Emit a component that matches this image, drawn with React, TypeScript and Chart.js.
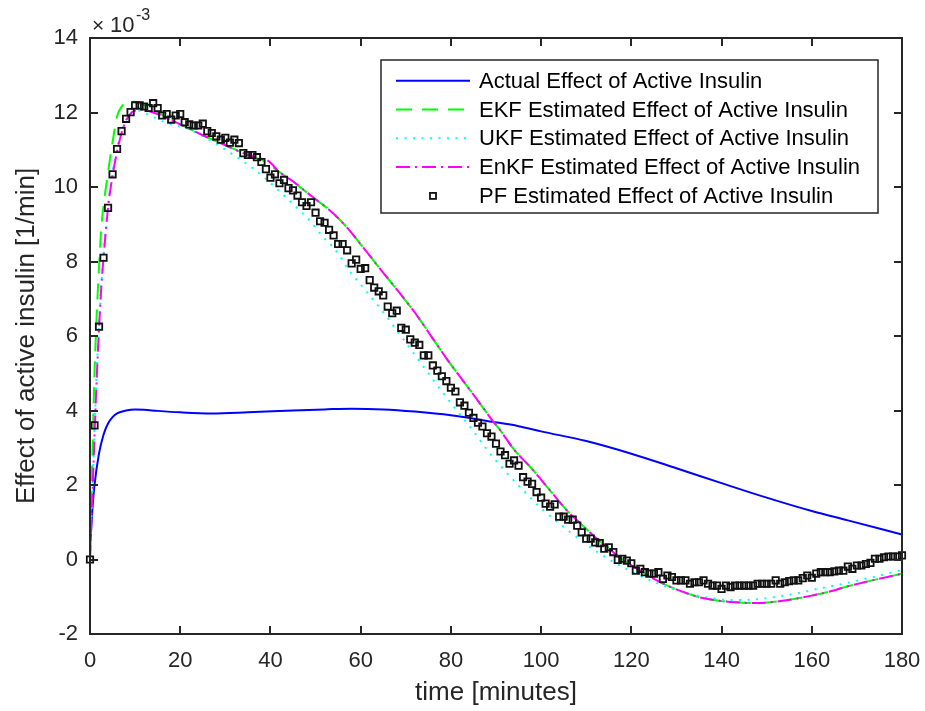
import React, { useEffect, useRef } from "react";
import { Chart, registerables } from "chart.js";

Chart.register(...registerables);

const FONT = '"Liberation Sans", Arial, Helvetica, sans-serif';
const AXIS_COLOR = "#262626";

// ---- axis ticks ----
const xTickValues = [0, 20, 40, 60, 80, 100, 120, 140, 160, 180];
const yTickValues = [-2, 0, 2, 4, 6, 8, 10, 12, 14];

// ---- series (values in units of 1e-3 1/min) ----
const actualTime = [0, 0.5, 1, 2, 3, 4, 5, 6, 8, 10, 12, 15, 20, 27, 35, 45, 52, 58, 65, 72, 80, 89, 95, 100, 110, 120, 130, 140, 150, 160, 168, 180];
const actualValue = [0.3, 1.3, 2.0, 2.85, 3.35, 3.65, 3.82, 3.92, 4.0, 4.03, 4.02, 3.99, 3.95, 3.92, 3.95, 4.0, 4.03, 4.05, 4.03, 3.97, 3.87, 3.7, 3.58, 3.44, 3.18, 2.84, 2.45, 2.05, 1.66, 1.3, 1.05, 0.67];

const ekfTime = [0, 0.5, 1, 1.5, 2, 2.5, 3, 4, 5, 6, 7, 8, 9, 10, 12, 14, 17.6, 20, 25, 30, 35, 39, 42, 45, 48, 50, 53, 57, 60, 64, 68, 72, 76, 79, 83, 86.5, 89.4, 91, 94, 98, 102, 106, 108, 112, 115, 118, 122, 125, 128, 131, 135, 139, 143, 148, 154, 160, 164, 168, 172, 176, 180];
const ekfValue = [0, 2.6, 5.0, 6.6, 7.85, 8.9, 9.5, 10.4, 11.2, 11.9, 12.15, 12.27, 12.3, 12.28, 12.2, 12.08, 11.82, 11.68, 11.39, 11.12, 10.86, 10.67, 10.4, 10.15, 9.86, 9.67, 9.39, 8.91, 8.46, 7.85, 7.25, 6.63, 5.93, 5.4, 4.75, 4.18, 3.7, 3.46, 2.95, 2.43, 1.85, 1.28, 1.05, 0.6, 0.3, 0.0, -0.3, -0.52, -0.7, -0.85, -1.01, -1.1, -1.15, -1.17, -1.1, -0.97, -0.86, -0.72, -0.6, -0.49, -0.38];

const ukfTime = [0, 0.5, 1, 1.5, 2, 2.5, 3, 4, 5, 6, 7, 8, 9, 10, 11, 12, 14, 17, 21.7, 27.6, 31.7, 35.8, 38.4, 41.7, 45.4, 48.7, 51.7, 53.9, 55.8, 57.2, 60, 64.6, 68, 71.3, 75, 78.7, 82, 85.7, 87.6, 91.6, 96.1, 100.5, 103.5, 106.4, 110.1, 113, 116.8, 120, 124.2, 128, 131.6, 135, 139, 142.5, 146.4, 150, 153.8, 157.5, 161.2, 165, 168.6, 174, 180];
const ukfValue = [0, 1.7, 3.5, 5.1, 6.35, 7.4, 8.2, 9.5, 10.4, 11.05, 11.5, 11.8, 11.98, 12.05, 12.05, 12.0, 11.88, 11.72, 11.56, 11.18, 10.87, 10.53, 10.28, 9.92, 9.5, 9.1, 8.65, 8.38, 8.07, 7.8, 7.38, 6.7, 6.15, 5.61, 5.0, 4.4, 3.9, 3.33, 3.01, 2.43, 1.85, 1.32, 1.02, 0.74, 0.4, 0.16, -0.12, -0.32, -0.56, -0.74, -0.88, -0.98, -1.06, -1.09, -1.08, -1.04, -0.97, -0.89, -0.79, -0.7, -0.61, -0.46, -0.28];

const enkfTime = [0, 0.5, 1, 1.5, 2, 2.5, 3, 4, 5, 6, 7, 8, 9, 10, 11, 12, 14, 17.6, 20, 25, 30, 35, 38, 39.5, 42, 45, 48, 50, 53, 57, 60, 64, 68, 72, 76, 79, 83, 86.5, 89.4, 91, 94, 98, 102, 106, 108, 112, 115, 118, 122, 125, 128, 131, 135, 139, 143, 148, 154, 160, 164, 168, 172, 176, 180];
const enkfValue = [0, 1.6, 3.3, 4.9, 6.2, 7.3, 8.1, 9.45, 10.3, 10.95, 11.45, 11.78, 11.97, 12.05, 12.08, 12.07, 12.0, 11.82, 11.68, 11.39, 11.12, 10.86, 10.76, 10.7, 10.4, 10.15, 9.86, 9.67, 9.39, 8.91, 8.46, 7.85, 7.25, 6.63, 5.93, 5.4, 4.75, 4.18, 3.7, 3.46, 2.95, 2.43, 1.85, 1.28, 1.05, 0.6, 0.3, 0.0, -0.3, -0.52, -0.7, -0.85, -1.01, -1.1, -1.15, -1.17, -1.1, -0.97, -0.86, -0.72, -0.6, -0.49, -0.38];

// PF estimate, one sample per minute from t = 0 to 180
const pfValue = [
  0, 3.6, 6.25, 8.1, 9.44, 10.34, 11.02, 11.5, 11.83, 12.01,
  12.19, 12.19, 12.16, 12.12, 12.25, 12.12, 11.92, 11.96, 11.81, 11.92,
  11.96, 11.74, 11.68, 11.65, 11.65, 11.7, 11.5, 11.45, 11.36, 11.27,
  11.32, 11.19, 11.27, 11.18, 10.91, 10.86, 10.86, 10.8, 10.67, 10.48,
  10.25, 10.34, 10.1, 10.19, 9.97, 9.91, 9.77, 9.59, 9.49, 9.59,
  9.31, 9.08, 9.04, 8.85, 8.7, 8.47, 8.47, 8.3, 7.95, 8.05,
  7.8, 7.82, 7.5, 7.3, 7.2, 7.09, 6.79, 6.61, 6.68, 6.22,
  6.17, 5.91, 5.82, 5.76, 5.48, 5.48, 5.21, 5.07, 4.92, 4.79,
  4.61, 4.51, 4.22, 4.13, 3.94, 3.8, 3.67, 3.57, 3.39, 3.3,
  3.11, 2.9, 2.8, 2.57, 2.66, 2.52, 2.21, 2.09, 2.03, 1.81,
  1.66, 1.5, 1.42, 1.48, 1.15, 1.15, 1.07, 1.07, 0.91, 0.73,
  0.56, 0.56, 0.46, 0.44, 0.29, 0.33, 0.2, -0.01, 0.02, -0.03,
  -0.1, -0.3, -0.25, -0.34, -0.38, -0.38, -0.34, -0.52, -0.43, -0.47,
  -0.56, -0.56, -0.56, -0.65, -0.61, -0.61, -0.56, -0.65, -0.7, -0.7,
  -0.79, -0.7, -0.74, -0.7, -0.7, -0.7, -0.7, -0.7, -0.65, -0.65,
  -0.65, -0.65, -0.56, -0.65, -0.61, -0.58, -0.56, -0.56, -0.5, -0.43,
  -0.49, -0.38, -0.34, -0.34, -0.34, -0.32, -0.3, -0.3, -0.19, -0.25,
  -0.16, -0.16, -0.12, -0.09, 0.02, 0.02, 0.06, 0.08, 0.08, 0.08,
  0.11,
];
const pfTime = pfValue.map((_, i) => i);

const seriesNames = [
  "Actual Effect of Active Insulin",
  "EKF Estimated Effect of Active Insulin",
  "UKF Estimated Effect of Active Insulin",
  "EnKF Estimated Effect of Active Insulin",
  "PF Estimated Effect of Active Insulin",
];

function pairs(t: number[], v: number[]) {
  return t.map((x, i) => ({ x, y: v[i] }));
}

const boxPlugin = {
  id: "matlabBox",
  afterDatasetsDraw(chart: any) {
    const { ctx, chartArea: a, scales } = chart;
    const xs = scales.x;
    const ys = scales.y;
    const L = 8;
    ctx.save();
    ctx.strokeStyle = AXIS_COLOR;
    ctx.lineWidth = 2;
    ctx.beginPath();
    xs.ticks.forEach((t: any) => {
      const px = Math.round(xs.getPixelForValue(t.value));
      ctx.moveTo(px, a.bottom);
      ctx.lineTo(px, a.bottom - L);
      ctx.moveTo(px, a.top);
      ctx.lineTo(px, a.top + L);
    });
    ys.ticks.forEach((t: any) => {
      const py = Math.round(ys.getPixelForValue(t.value));
      ctx.moveTo(a.left, py);
      ctx.lineTo(a.left + L, py);
      ctx.moveTo(a.right, py);
      ctx.lineTo(a.right - L, py);
    });
    ctx.stroke();
    ctx.strokeRect(a.left, a.top, a.right - a.left, a.bottom - a.top);
    ctx.restore();
  },
  afterDraw(chart: any) {
    const { ctx, chartArea: a } = chart;
    ctx.save();
    // exponent label
    ctx.fillStyle = AXIS_COLOR;
    ctx.textBaseline = "alphabetic";
    ctx.textAlign = "left";
    ctx.font = `21px ${FONT}`;
    ctx.fillText("\u00d7", a.left + 2, a.top - 6);
    ctx.font = `22px ${FONT}`;
    ctx.fillText("10", a.left + 20, a.top - 6);
    ctx.font = `16px ${FONT}`;
    ctx.fillText("-3", a.left + 46, a.top - 18);

    // legend
    const w = 497;
    const h = 153;
    const bx = a.right - 24 - w;
    const by = a.top + 22;
    ctx.fillStyle = "#ffffff";
    ctx.fillRect(bx, by, w, h);
    ctx.strokeStyle = AXIS_COLOR;
    ctx.lineWidth = 1.5;
    ctx.strokeRect(bx, by, w, h);
    ctx.font = `22px ${FONT}`;
    ctx.textBaseline = "middle";
    chart.data.datasets.forEach((ds: any, i: number) => {
      const cy = by + 20.7 + 28.8 * i;
      const x0 = bx + 15;
      const x1 = bx + 89;
      if (ds.showLine === false) {
        const s = 6;
        ctx.setLineDash([]);
        ctx.strokeStyle = ds.borderColor;
        ctx.lineWidth = ds.borderWidth;
        ctx.strokeRect((x0 + x1) / 2 - s / 2, cy - s / 2, s, s);
      } else {
        ctx.beginPath();
        ctx.setLineDash(ds.borderDash || []);
        ctx.strokeStyle = ds.borderColor;
        ctx.lineWidth = ds.borderWidth;
        ctx.moveTo(x0, cy);
        ctx.lineTo(x1, cy);
        ctx.stroke();
        ctx.setLineDash([]);
      }
      ctx.fillStyle = "#000000";
      ctx.fillText(ds.label, bx + 98, cy + 1);
    });
    ctx.restore();
  },
};

export default function App() {
  const ref = useRef<HTMLCanvasElement>(null);
  useEffect(() => {
    const canvas = ref.current as HTMLCanvasElement;
    const lineCommon = {
      pointRadius: 0,
      borderWidth: 2,
      fill: false,
      cubicInterpolationMode: "monotone" as const,
    };
    const chart = new Chart(canvas, {
      type: "line",
      data: {
        datasets: [
          { ...lineCommon, label: seriesNames[0], data: pairs(actualTime, actualValue), borderColor: "#0000ff", order: 4 },
          { ...lineCommon, label: seriesNames[1], data: pairs(ekfTime, ekfValue), borderColor: "#00ff00", borderDash: [16, 10], order: 3 },
          { ...lineCommon, label: seriesNames[2], data: pairs(ukfTime, ukfValue), borderColor: "#00ffff", borderDash: [2, 6.5], order: 2 },
          { ...lineCommon, label: seriesNames[3], data: pairs(enkfTime, enkfValue), borderColor: "#ff00ff", borderDash: [14, 5, 2, 5], order: 1 },
          {
            label: seriesNames[4],
            data: pairs(pfTime, pfValue),
            showLine: false,
            pointStyle: "rect",
            pointRadius: 4.5,
            borderWidth: 1.8,
            borderColor: "#111111",
            backgroundColor: "rgba(0,0,0,0)",
            clip: 6,
            order: 0,
          } as any,
        ],
      },
      options: {
        responsive: false,
        maintainAspectRatio: false,
        devicePixelRatio: 1,
        animation: false,
        events: [],
        layout: { padding: { left: 0, top: 38, right: 23, bottom: 0 } },
        plugins: { legend: { display: false }, tooltip: { enabled: false } },
        scales: {
          x: {
            type: "linear",
            min: 0,
            max: 180,
            afterBuildTicks: (s: any) => {
              s.ticks = xTickValues.map((value) => ({ value }));
            },
            afterFit: (s: any) => {
              s.height = 77;
              s.paddingLeft = 0;
              s.paddingRight = 0;
            },
            grid: { display: false, drawTicks: false, tickLength: 0 },
            border: { display: false },
            ticks: { font: { size: 22, family: FONT }, color: AXIS_COLOR, padding: 14, maxRotation: 0, autoSkip: false },
            title: { display: true, text: "time [minutes]", font: { size: 26, family: FONT }, color: AXIS_COLOR, padding: { top: 0, bottom: 3 } },
          },
          y: {
            type: "linear",
            min: -2,
            max: 14,
            afterBuildTicks: (s: any) => {
              s.ticks = yTickValues.map((value) => ({ value }));
            },
            afterFit: (s: any) => {
              s.width = 90;
              s.paddingTop = 0;
              s.paddingBottom = 0;
            },
            grid: { display: false, drawTicks: false, tickLength: 0 },
            border: { display: false },
            ticks: { font: { size: 22, family: FONT }, color: AXIS_COLOR, padding: 12, autoSkip: false },
            title: { display: true, text: "Effect of active insulin [1/min]", font: { size: 26, family: FONT }, color: AXIS_COLOR, padding: { top: 11, bottom: 0 } },
          },
        },
      },
      plugins: [boxPlugin],
    });
    return () => chart.destroy();
  }, []);
  return (
    <div style={{ position: "fixed", left: 0, top: 0, width: 925, height: 711, background: "#ffffff" }}>
      <canvas ref={ref} width={925} height={711} style={{ display: "block", width: 925, height: 711 }} />
    </div>
  );
}
